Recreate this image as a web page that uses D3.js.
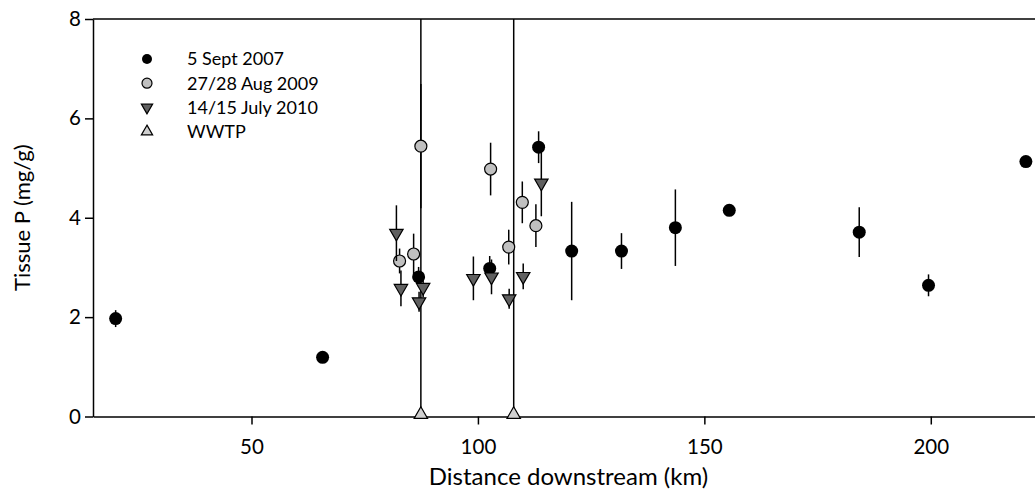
<!DOCTYPE html>
<html>
<head>
<meta charset="utf-8">
<script src="https://cdn.jsdelivr.net/npm/d3@7"></script>
<style>
  body { margin: 0; background: #fff; }
  svg text { font-family: Lato, "Open Sans", sans-serif; fill: #000; }
</style>
</head>
<body>
<div id="chart"></div>
<script>
"use strict";

// 5 Sept 2007 (black circles)
var sept2007Km  = [20, 65.7, 86.9, 102.6, 113.4, 120.7, 131.7, 143.6, 155.5, 184.2, 199.5, 221];
var sept2007P   = [1.97, 1.19, 2.81, 2.98, 5.42, 3.33, 3.33, 3.80, 4.15, 3.71, 2.64, 5.13];
var sept2007Err = [0.17, 0, 0.2, 0.25, 0.32, 0.99, 0.36, 0.77, 0, 0.5, 0.22, 0];

// 27/28 Aug 2009 (grey circles)
var aug2009Km  = [82.7, 85.8, 87.4, 102.8, 106.8, 109.8, 112.8];
var aug2009P   = [3.13, 3.27, 5.44, 4.98, 3.41, 4.31, 3.84];
var aug2009Err = [0.25, 0.41, 1.25, 0.53, 0.35, 0.42, 0.43];

// 14/15 July 2010 (dark grey triangles down)
var jul2010Km  = [82.0, 83.0, 87.0, 87.9, 99.0, 103.0, 106.9, 110.0, 114.0];
var jul2010P   = [3.69, 2.58, 2.31, 2.60, 2.78, 2.81, 2.37, 2.82, 4.70];
var jul2010Err = [0.56, 0.36, 0.2, 0.2, 0.44, 0.35, 0.2, 0.26, 0.67];

// WWTP locations
var wwtpKm = [87.4, 107.9];
var wwtpP  = [0, 0];

var xTicks = [50, 100, 150, 200];
var yTicks = [0, 2, 4, 6, 8];
var legendLabels = ["5 Sept 2007", "27/28 Aug 2009", "14/15 July 2010", "WWTP"];

var width = 1035, height = 492;
var margin = {top: 19, left: 93, bottom: 75};

var svg = d3.select("#chart").append("svg")
    .attr("width", width)
    .attr("height", height);

var x = d3.scaleLinear().domain([15, 225]).range([margin.left, margin.left + 951]);
var y = d3.scaleLinear().domain([0, 8]).range([height - margin.bottom - 0.5, margin.top]);

function zip(km, p, err) {
  return km.map(function(d, i) { return {km: d, p: p[i], err: err ? err[i] : 0}; });
}

// axes
var xAxis = svg.append("g")
    .attr("transform", "translate(0," + y(0) + ")")
    .call(d3.axisBottom(x).tickValues(xTicks).tickSize(8).tickSizeOuter(0).tickPadding(15));
var yAxis = svg.append("g")
    .attr("transform", "translate(" + margin.left + ",0)")
    .call(d3.axisLeft(y).tickValues(yTicks).tickSize(8).tickSizeOuter(0).tickPadding(4));
[xAxis, yAxis].forEach(function(a) {
  a.selectAll("path, line").attr("stroke", "#000").attr("stroke-width", 1.5);
  a.selectAll("text").attr("font-size", 20.5).style("font-family", "Lato, sans-serif");
});

// top frame line
svg.append("line")
    .attr("x1", margin.left).attr("x2", width)
    .attr("y1", y(8)).attr("y2", y(8))
    .attr("stroke", "#000").attr("stroke-width", 1.5);

svg.append("text")
    .attr("x", x(120)).attr("y", 485)
    .attr("text-anchor", "middle")
    .attr("font-size", 24)
    .text("Distance downstream (km)");

svg.append("text")
    .attr("transform", "translate(30," + y(4) + ") rotate(-90)")
    .attr("text-anchor", "middle")
    .attr("font-size", 22)
    .text("Tissue P (mg/g)");

var triDown = d3.symbol().type(d3.symbolTriangle).size(78);

function errBars(data) {
  svg.append("g").selectAll("line")
    .data(data.filter(function(d) { return d.err > 0; }))
    .join("line")
      .attr("x1", function(d) { return x(d.km); })
      .attr("x2", function(d) { return x(d.km); })
      .attr("y1", function(d) { return y(d.p + d.err); })
      .attr("y2", function(d) { return y(d.p - d.err); })
      .attr("stroke", "#000")
      .attr("stroke-width", 1.5);
}

// WWTP vertical lines
var wwtp = zip(wwtpKm, wwtpP);
svg.append("g").selectAll("line")
  .data(wwtp)
  .join("line")
    .attr("x1", function(d) { return x(d.km); })
    .attr("x2", function(d) { return x(d.km); })
    .attr("y1", function(d) { return y(d.p); })
    .attr("y2", y(8))
    .attr("stroke", "#000")
    .attr("stroke-width", 1.5);

// 5 Sept 2007
var s1 = zip(sept2007Km, sept2007P, sept2007Err);
errBars(s1);
svg.append("g").selectAll("circle")
  .data(s1)
  .join("circle")
    .attr("cx", function(d) { return x(d.km); })
    .attr("cy", function(d) { return y(d.p); })
    .attr("r", 6.5)
    .attr("fill", "#000");

// 27/28 Aug 2009
var s2 = zip(aug2009Km, aug2009P, aug2009Err);
errBars(s2);
svg.append("g").selectAll("circle")
  .data(s2)
  .join("circle")
    .attr("cx", function(d) { return x(d.km); })
    .attr("cy", function(d) { return y(d.p); })
    .attr("r", 6)
    .attr("fill", "#c0c0c0")
    .attr("stroke", "#000")
    .attr("stroke-width", 1.2);

// 14/15 July 2010
var s3 = zip(jul2010Km, jul2010P, jul2010Err);
errBars(s3);
svg.append("g").selectAll("path")
  .data(s3)
  .join("path")
    .attr("d", triDown)
    .attr("transform", function(d) { return "translate(" + x(d.km) + "," + y(d.p) + ") rotate(180)"; })
    .attr("fill", "#606060")
    .attr("stroke", "#000")
    .attr("stroke-width", 1.2);

// WWTP markers
svg.append("g").selectAll("path")
  .data(wwtp)
  .join("path")
    .attr("d", triDown)
    .attr("transform", function(d) { return "translate(" + x(d.km) + "," + (y(d.p) - 2) + ")"; })
    .attr("fill", "#d0d0d0")
    .attr("stroke", "#000")
    .attr("stroke-width", 1.2);

// legend
var legendSym = [
  function(g) { g.append("circle").attr("r", 5).attr("fill", "#000"); },
  function(g) { g.append("circle").attr("r", 5).attr("fill", "#c0c0c0").attr("stroke", "#000").attr("stroke-width", 1.2); },
  function(g) { g.append("path").attr("d", d3.symbol().type(d3.symbolTriangle).size(55)).attr("transform", "rotate(180)").attr("fill", "#606060").attr("stroke", "#000").attr("stroke-width", 1.2); },
  function(g) { g.append("path").attr("d", d3.symbol().type(d3.symbolTriangle).size(55)).attr("fill", "#d0d0d0").attr("stroke", "#000").attr("stroke-width", 1.2); }
];
var legend = svg.append("g");
legendLabels.forEach(function(lbl, i) {
  var row = legend.append("g").attr("transform", "translate(147," + (59 + i * 24.2) + ")");
  legendSym[i](row);
  row.append("text")
    .attr("x", 40).attr("dy", "0.35em")
    .attr("font-size", 18)
    .text(lbl);
});
</script>
</body>
</html>
